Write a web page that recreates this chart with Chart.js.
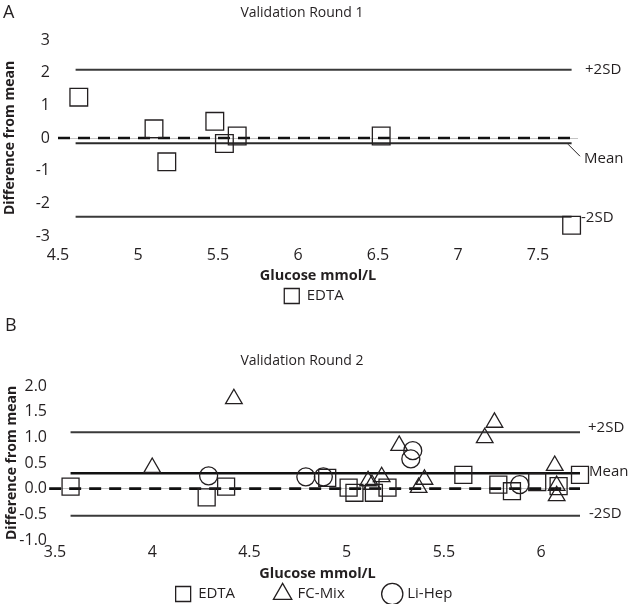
<!DOCTYPE html>
<html>
<head>
<meta charset="utf-8">
<script src="https://cdn.jsdelivr.net/npm/chart.js@4.4.1/dist/chart.umd.min.js"></script>
<style>
  html, body { margin: 0; padding: 0; background: #fff; overflow: hidden; }
  body { width: 628px; height: 604px; position: relative; }
  canvas { position: absolute; left: 0; }
  #chartA { top: 0; }
  #chartB { top: 300px; }
</style>
</head>
<body>
<canvas id="chartA" width="628" height="327"></canvas>
<canvas id="chartB" width="628" height="325"></canvas>
<script>
// Validation Round 1 (panel A)
var xTicksA = [4.5, 5, 5.5, 6, 6.5, 7, 7.5];
var yTicksA = [-3, -2, -1, 0, 1, 2, 3];
var edtaA_x = [4.63, 5.10, 5.18, 5.48, 5.54, 5.62, 6.52, 7.71];
var edtaA_y = [1.25, 0.28, -0.73, 0.51, -0.17, 0.06, 0.06, -2.67];
var limitsA = [2.09, -0.16, -2.41]; // +2SD, mean, -2SD
var spanA = [4.61, 7.71];
var zeroSpanA = [4.5, 7.75];

// Validation Round 2 (panel B)
var xTicksB = [3.5, 4, 4.5, 5, 5.5, 6];
var yTicksB = [-1, -0.5, 0, 0.5, 1, 1.5, 2];
var edtaB_x = [3.58, 4.28, 4.38, 4.90, 5.01, 5.04, 5.14, 5.21, 5.60, 5.78, 5.85, 5.98, 6.09, 6.20];
var edtaB_y = [0.04, -0.17, 0.04, 0.21, 0.02, -0.08, -0.08, 0.02, 0.27, 0.08, -0.05, 0.13, 0.05, 0.27];
var fcmixB_x = [4.00, 4.42, 5.11, 5.13, 5.18, 5.27, 5.37, 5.40, 5.71, 5.76, 6.07, 6.08, 6.08];
var fcmixB_y = [0.41, 1.75, 0.15, 0.08, 0.23, 0.84, 0.02, 0.18, 0.99, 1.29, 0.45, 0.06, -0.14];
var lihepB_x = [4.29, 4.79, 4.88, 5.33, 5.34, 5.89];
var lihepB_y = [0.25, 0.23, 0.23, 0.58, 0.74, 0.08];
var limitsB = [1.10, 0.30, -0.53];
var spanB = [3.58, 6.2];
var zeroSpanB = [3.47, 6.2];

var limitLabels = ["+2SD", "Mean", "-2SD"];

Chart.defaults.font.family = "'Open Sans', sans-serif";
Chart.defaults.color = "#231f20";
Chart.defaults.animation = false;

var ink = "#231f20";

function pts(xs, ys) {
  return xs.map(function (x, i) { return { x: x, y: ys[i] }; });
}

function markers(label, xs, ys, style, radius) {
  return {
    label: label,
    data: pts(xs, ys),
    pointStyle: style,
    pointRadius: radius,
    pointHoverRadius: radius,
    borderColor: ink,
    pointBorderColor: ink,
    backgroundColor: "rgba(255,255,255,0)",
    pointBackgroundColor: "rgba(255,255,255,0)",
    borderWidth: 1.3,
    pointBorderWidth: 1.3,
    clip: false
  };
}

function refLine(label, span, value, width, color, dash) {
  return {
    label: label,
    isRef: true,
    data: [{ x: span[0], y: value }, { x: span[1], y: value }],
    showLine: true,
    pointRadius: 0,
    borderColor: color,
    borderWidth: width,
    borderDash: dash || [],
    clip: false
  };
}

// panel letter, title and the +2SD / Mean / -2SD labels
var panelText = {
  id: "panelText",
  afterDraw: function (chart, args, o) {
    var ctx = chart.ctx;
    var area = chart.chartArea;
    var y = chart.scales.y;
    ctx.save();
    ctx.fillStyle = ink;
    ctx.strokeStyle = ink;
    ctx.textBaseline = "middle";
    ctx.font = "18px 'Open Sans'";
    ctx.textAlign = "left";
    ctx.fillText(o.letter, o.letterX, o.letterY);
    ctx.font = "14px 'Open Sans'";
    ctx.textAlign = "center";
    ctx.fillText(o.title, 302, o.titleY);
    ctx.font = "15px 'Open Sans'";
    ctx.textAlign = "left";
    o.limits.forEach(function (v, i) {
      var py = y.getPixelForValue(v);
      ctx.fillText(limitLabels[i], area.right + o.dx[i], py + o.dy[i]);
    });
    if (o.leader) {
      var my = y.getPixelForValue(o.limits[1]);
      ctx.lineWidth = 1;
      ctx.beginPath();
      ctx.moveTo(area.right - 10, my + 1);
      ctx.lineTo(area.right + 2, my + 13);
      ctx.stroke();
    }
    ctx.restore();
  }
};

// the legend keeps wide gaps between its items, so pull it up under the axis title
var legendLift = {
  id: "legendLift",
  afterLayout: function (chart, args, o) {
    chart.legend.top -= o.lift;
    chart.legend.bottom -= o.lift;
  }
};

function buildOptions(cfg) {
  return {
    responsive: false,
    events: [],
    layout: { padding: { top: cfg.top, left: 0, right: 0, bottom: 0 } },
    scales: {
      x: {
        type: "linear",
        min: cfg.xMin,
        max: cfg.xMax,
        afterBuildTicks: function (s) { s.ticks = cfg.xTicks.map(function (v) { return { value: v }; }); },
        grid: { display: false, drawTicks: false },
        border: { display: false },
        ticks: {
          font: { size: 16 }, padding: cfg.xPad, maxRotation: 0, autoSkip: false, color: ink,
          callback: function (v) { return String(v); }
        },
        title: {
          display: true,
          text: "Glucose mmol/L",
          color: ink,
          font: { size: 14.5, weight: "bold" },
          padding: { top: 0, bottom: -22.7 }
        },
        afterFit: function (s) { s.height = cfg.xHeight; }
      },
      y: {
        type: "linear",
        min: cfg.yMin,
        max: cfg.yMax,
        afterBuildTicks: function (s) { s.ticks = cfg.yTicks.map(function (v) { return { value: v }; }); },
        grid: {
          drawTicks: false,
          lineWidth: 1,
          color: function (c) { return c.tick && c.tick.value === 0 ? "#c4c4c4" : "rgba(0,0,0,0)"; }
        },
        border: { display: false },
        ticks: { font: { size: 16 }, padding: 8, color: ink, callback: cfg.yFormat },
        title: {
          display: true,
          text: "Difference from mean",
          color: ink,
          font: { size: 14, weight: "bold" },
          padding: { top: cfg.yTitlePad, bottom: 0 }
        },
        afterFit: function (s) { s.width = cfg.yWidth; }
      },
      // empty right-hand axis keeps room for the SD labels
      yr: {
        type: "linear",
        position: "right",
        display: true,
        grid: { display: false },
        border: { display: false },
        ticks: { display: false },
        afterFit: function (s) { s.width = 628 - cfg.right; }
      }
    },
    plugins: {
      tooltip: { enabled: false },
      legend: {
        position: "bottom",
        labels: {
          usePointStyle: true,
          padding: 40,
          color: ink,
          font: { size: 15 },
          filter: function (item, data) { return !data.datasets[item.datasetIndex].isRef; }
        }
      },
      legendLift: { lift: 13.5 },
      panelText: cfg.text
    }
  };
}

// Chart A
new Chart(document.getElementById("chartA").getContext("2d"), {
  type: "scatter",
  data: {
    datasets: [
      markers("EDTA", edtaA_x, edtaA_y, "rect", 12.5),
      refLine("zero", zeroSpanA, 0, 2.6, "#111", [12, 8]),
      refLine("+2SD", spanA, limitsA[0], 2, "#3a3a3a"),
      refLine("Mean", spanA, limitsA[1], 2, "#2a2a2a"),
      refLine("-2SD", spanA, limitsA[2], 2, "#3a3a3a")
    ]
  },
  options: buildOptions({
    top: 40, right: 578, xMin: 4.5, xMax: 7.75, xTicks: xTicksA, xPad: 9.4, xHeight: 26,
    yMin: -3, yMax: 3, yTicks: yTicksA, yWidth: 58, yTitlePad: 1.6,
    yFormat: function (v) { return String(v); },
    text: {
      letter: "A", letterX: 3, letterY: 13, title: "Validation Round 1", titleY: 13,
      limits: limitsA, dx: [7, 6, 3], dy: [0, 16, 1], leader: true
    }
  }),
  plugins: [panelText, legendLift]
});

// Chart B
new Chart(document.getElementById("chartB").getContext("2d"), {
  type: "scatter",
  data: {
    datasets: [
      markers("EDTA", edtaB_x, edtaB_y, "rect", 12),
      markers("FC-Mix", fcmixB_x, fcmixB_y, "triangle", 9.6),
      markers("Li-Hep", lihepB_x, lihepB_y, "circle", 9),
      refLine("zero", zeroSpanB, 0, 2.6, "#111", [12, 8]),
      refLine("+2SD", spanB, limitsB[0], 2, "#3a3a3a"),
      refLine("Mean", spanB, limitsB[1], 2.4, "#111"),
      refLine("-2SD", spanB, limitsB[2], 2, "#3a3a3a")
    ]
  },
  options: buildOptions({
    top: 86, right: 580, xMin: 3.5, xMax: 6.2, xTicks: xTicksB, xPad: 2.4, xHeight: 20,
    yMin: -1, yMax: 2, yTicks: yTicksB, yWidth: 55, yTitlePad: 3.6,
    yFormat: function (v) { return v.toFixed(1); },
    text: {
      letter: "B", letterX: 5, letterY: 26, title: "Validation Round 2", titleY: 61,
      limits: limitsB, dx: [8, 9, 9], dy: [-4, -2, -2], leader: false
    }
  }),
  plugins: [panelText, legendLift]
});
</script>
</body>
</html>
